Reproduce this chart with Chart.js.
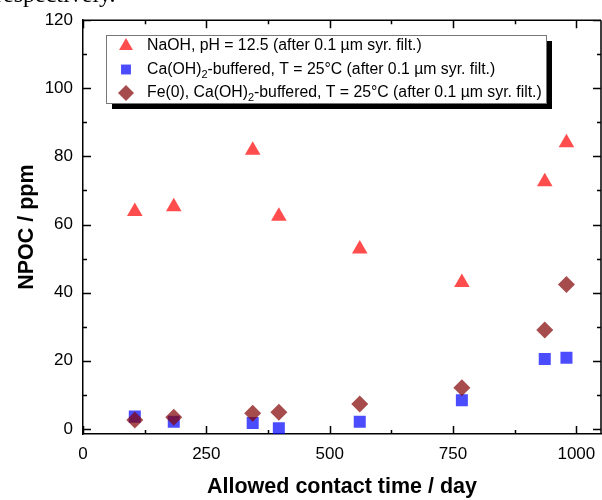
<!DOCTYPE html>
<html>
<head>
<meta charset="utf-8">
<script src="https://cdn.jsdelivr.net/npm/chart.js@4/dist/chart.umd.min.js"></script>
<style>
body { margin: 0; overflow: hidden; background: #fff; }
#wrap { position: relative; width: 602px; height: 500px; overflow: hidden; }
#chart { position: absolute; left: 0; top: 0; }
#note { position: absolute; left: -5px; top: -19px; font: 24px "Liberation Serif", serif; color: #000; white-space: nowrap; }
</style>
</head>
<body>
<div id="wrap">
  <canvas id="chart" width="610" height="500"></canvas>
  <div id="note">respectively.</div>
</div>
<script>
// contact time (days) and NPOC (ppm)
const days = [105, 184, 344, 397, 561, 768, 936, 980];
const naoh = [63.8, 65.2, 81.8, 62.4, 52.8, 43.0, 72.6, 84.0];
const caoh = [3.6, 2.1, 1.7, 0.2, 2.1, 8.4, 20.5, 20.9];
const fe0 = [2.6, 3.4, 4.6, 4.9, 7.3, 12.1, 29.0, 42.4];

const xTicks = [0, 250, 500, 750, 1000];
const xMinor = [125, 375, 625, 875];
const yTicks = [0, 20, 40, 60, 80, 100, 120];
const yMinor = [10, 30, 50, 70, 90, 110];

const seriesLabels = [
    'NaOH, pH = 12.5 (after 0.1 µm syr. filt.)',
    'Ca(OH)₂-buffered, T = 25°C (after 0.1 µm syr. filt.)',
    'Fe(0), Ca(OH)₂-buffered, T = 25°C (after 0.1 µm syr. filt.)'
];

const FONT = '"Liberation Sans", Arial, sans-serif';
Chart.defaults.font.family = FONT;
Chart.defaults.color = '#000';

const toPoints = (ys) => days.map((d, i) => ({ x: d, y: ys[i] }));

// inward ticks on all four sides + top/right frame, and the boxed legend
const framePlugin = {
    id: 'frame',
    beforeDatasetsDraw(chart) {
        const ctx = chart.ctx;
        const a = chart.chartArea;
        const xs = chart.scales.x, ys = chart.scales.y;
        ctx.save();
        ctx.strokeStyle = '#000';
        ctx.lineWidth = 1.5;
        ctx.beginPath();
        ctx.moveTo(a.left, a.top); ctx.lineTo(a.right, a.top);
        ctx.moveTo(a.right, a.top); ctx.lineTo(a.right, a.bottom);
        const tick = (vals, len) => {
            vals.forEach(v => {
                const px = Math.round(xs.getPixelForValue(v)) + 0.5;
                ctx.moveTo(px, a.bottom); ctx.lineTo(px, a.bottom - len);
                ctx.moveTo(px, a.top); ctx.lineTo(px, a.top + len);
            });
        };
        const ytick = (vals, len) => {
            vals.forEach(v => {
                const py = Math.round(ys.getPixelForValue(v)) + 0.5;
                ctx.moveTo(a.left, py); ctx.lineTo(a.left + len, py);
                ctx.moveTo(a.right, py); ctx.lineTo(a.right - len, py);
            });
        };
        tick(xTicks, 8); tick(xMinor, 4);
        ytick(yTicks, 8); ytick(yMinor, 4);
        ctx.stroke();
        ctx.restore();
    },
    afterDraw(chart) {
        const ctx = chart.ctx;
        const bx = 106, by = 35, bw = 440, bh = 68;
        ctx.save();
        ctx.fillStyle = '#000';
        ctx.fillRect(bx + 6, by + 6, bw, bh);
        ctx.fillStyle = '#fff';
        ctx.fillRect(bx, by, bw, bh);
        ctx.strokeStyle = '#777';
        ctx.lineWidth = 1;
        ctx.strokeRect(bx + 0.5, by + 0.5, bw, bh);
        const legendRadius = [8, 7, 8];
        chart.data.datasets.forEach((ds, i) => {
            const y = by + 11 + i * 23.5;
            ctx.fillStyle = ds.backgroundColor;
            ctx.strokeStyle = ds.backgroundColor;
            Chart.helpers.drawPoint(ctx, {
                pointStyle: ds.pointStyle, radius: legendRadius[i], rotation: 0, borderWidth: 0
            }, 126, y);
            ctx.fillStyle = '#000';
            ctx.textBaseline = 'middle';
            ctx.textAlign = 'left';
            let x = 147;
            const parts = ds.label.split('₂');
            parts.forEach((p, k) => {
                ctx.font = '15.8px ' + FONT;
                ctx.fillText(p, x, y);
                x += ctx.measureText(p).width;
                if (k < parts.length - 1) {
                    ctx.font = '11px ' + FONT;
                    ctx.fillText('2', x, y + 5);
                    x += ctx.measureText('2').width;
                }
            });
        });
        ctx.restore();
    }
};

new Chart(document.getElementById('chart'), {
    type: 'scatter',
    data: {
        datasets: [
            {
                label: seriesLabels[0],
                data: toPoints(naoh),
                pointStyle: 'triangle',
                pointRadius: 9,
                backgroundColor: 'rgba(255,0,0,0.7)',
                borderWidth: 0,
                order: 3
            },
            {
                label: seriesLabels[1],
                data: toPoints(caoh),
                pointStyle: 'rect',
                pointRadius: 8.5,
                backgroundColor: 'rgba(0,0,255,0.7)',
                borderWidth: 0,
                order: 2
            },
            {
                label: seriesLabels[2],
                data: toPoints(fe0),
                pointStyle: 'rectRot',
                pointRadius: 8.5,
                backgroundColor: 'rgba(128,0,0,0.7)',
                borderWidth: 0,
                order: 1
            }
        ]
    },
    options: {
        responsive: false,
        animation: false,
        devicePixelRatio: 1,
        layout: { padding: { top: 19, right: 6, left: 0, bottom: 0 } },
        plugins: {
            legend: { display: false },
            tooltip: { enabled: false }
        },
        elements: { point: { hoverRadius: 9 } },
        scales: {
            x: {
                type: 'linear',
                min: 0,
                max: 1050,
                afterBuildTicks: (s) => { s.ticks = xTicks.map(v => ({ value: v })); },
                afterFit: (s) => { s.height = 66; },
                ticks: { font: { size: 17 }, padding: 10, maxRotation: 0, callback: (v) => String(v) },
                grid: { display: false, drawTicks: false },
                border: { display: true, color: '#000', width: 1.5 },
                title: {
                    display: true,
                    text: 'Allowed contact time / day',
                    font: { size: 21.5, weight: 'bold' },
                    padding: { top: 0, bottom: 0 }
                }
            },
            y: {
                type: 'linear',
                min: -1.5,
                max: 120,
                afterBuildTicks: (s) => { s.ticks = yTicks.map(v => ({ value: v })); },
                afterFit: (s) => { s.width = 83; },
                ticks: { font: { size: 17 }, padding: 10, callback: (v) => String(v) },
                grid: { display: false, drawTicks: false },
                border: { display: true, color: '#000', width: 1.5 },
                title: {
                    display: true,
                    text: 'NPOC / ppm',
                    font: { size: 21.5, weight: 'bold' },
                    padding: { top: 14, bottom: 0 }
                }
            }
        }
    },
    plugins: [framePlugin]
});
</script>
</body>
</html>
